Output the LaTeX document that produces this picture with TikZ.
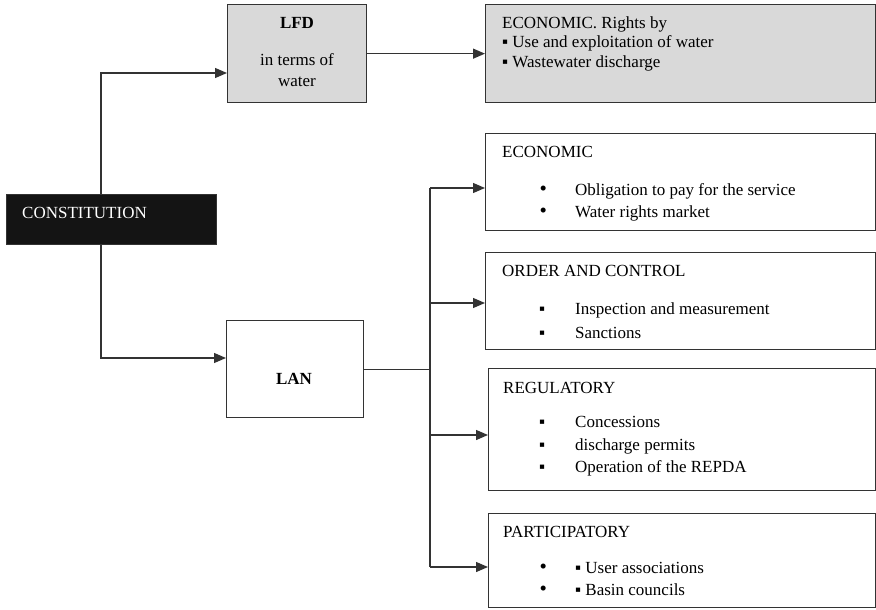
\documentclass[tikz,border=0pt]{standalone}
\usepackage{fontspec}
\setmainfont{Liberation Serif}
\usetikzlibrary{arrows.meta}

% list entries: round or square bullet, text 32pt further right
\newcommand{\dotitem}[1]{\makebox[0pt][c]{\fontsize{21}{19}\selectfont•}\hspace{32pt}#1}
\newcommand{\sqitem}[1]{\makebox[0pt][c]{▪}\hspace{33pt}#1}

\tikzset{
	box/.style={draw=black!80, line width=1.3pt, anchor=north west, inner sep=0pt},
	txt/.style={anchor=base west, inner sep=0pt, font=\fontsize{17}{19}\selectfont},
	ctxt/.style={anchor=base, inner sep=0pt, font=\fontsize{17}{19}\selectfont},
	ln/.style={draw=black!80, line width=1.3pt},
	arr/.style={ln, -{Triangle[length=12pt,width=10pt]}},
}

\begin{document}
\begin{tikzpicture}[x=1pt, y=-1pt]
\useasboundingbox (0,0) rectangle (876,610);

% boxes
\node[box, fill=black!92, minimum width=210pt, minimum height=50pt] (const) at (6,194) {};
\node[box, fill=gray!30, minimum width=139pt, minimum height=98pt] (lfd) at (227,4) {};
\node[box, fill=gray!30, minimum width=390pt, minimum height=98pt] (rights) at (485,4) {};
\node[box, minimum width=137pt, minimum height=97pt] (lan) at (226,320) {};
\node[box, minimum width=390pt, minimum height=97pt] (econ) at (485,133) {};
\node[box, minimum width=390pt, minimum height=97pt] (order) at (485,252) {};
\node[box, minimum width=387pt, minimum height=122pt] (reg) at (488,368) {};
\node[box, minimum width=387pt, minimum height=94pt] (part) at (488,513) {};

% texts
\node[txt, text=white] (const-t) at (22,218) {CONSTITUTION};
\node[ctxt] (lfd-t) at (297,29) {\bfseries LFD};
\node[ctxt] (lfd-1) at (297,66) {in terms of};
\node[ctxt] (lfd-2) at (297,86) {water};
\node[ctxt] (lan-t) at (294,384) {\bfseries LAN};

\node[txt] (rights-t) at (502,29) {ECONOMIC. Rights by};
\node[txt] (rights-1) at (502,48) {▪ Use and exploitation of water};
\node[txt] (rights-2) at (502,67) {▪ Wastewater discharge};

\node[txt] (econ-t) at (502,157) {ECONOMIC};
\node[txt] (econ-1) at (543,195) {\dotitem{Obligation to pay for the service}};
\node[txt] (econ-2) at (543,217) {\dotitem{Water rights market}};

\node[txt] (order-t) at (502,276) {ORDER AND CONTROL};
\node[txt] (order-1) at (542,314) {\sqitem{Inspection and measurement}};
\node[txt] (order-2) at (542,338) {\sqitem{Sanctions}};

\node[txt] (reg-t) at (503,393) {REGULATORY};
\node[txt] (reg-1) at (542,427) {\sqitem{Concessions}};
\node[txt] (reg-2) at (542,450) {\sqitem{discharge permits}};
\node[txt] (reg-3) at (542,472) {\sqitem{Operation of the REPDA}};

\node[txt] (part-t) at (503,537) {PARTICIPATORY};
\node[txt] (part-1) at (543,573) {\dotitem{▪ User associations}};
\node[txt] (part-2) at (543,595) {\dotitem{▪ Basin councils}};

% connectors
\coordinate (up) at (101,73);
\coordinate (dn) at (101,358);
\draw[arr] (const.north -| up) -- (up) -- (lfd.west |- up);
\draw[arr] (const.south -| up) -- (dn) -- (lan.west |- dn);
\draw[arr] (lfd) -- (rights);

\coordinate (t1) at (430,188);
\coordinate (t2) at (430,303);
\coordinate (t3) at (430,435);
\coordinate (t4) at (430,567);
\draw[ln] (t1) -- (t4);
\draw[ln] (lan.east) -- (lan.east -| t1);
\draw[arr] (t1) -- (econ.west |- t1);
\draw[arr] (t2) -- (order.west |- t2);
\draw[arr] (t3) -- (reg.west |- t3);
\draw[arr] (t4) -- (part.west |- t4);
\end{tikzpicture}
\end{document}
